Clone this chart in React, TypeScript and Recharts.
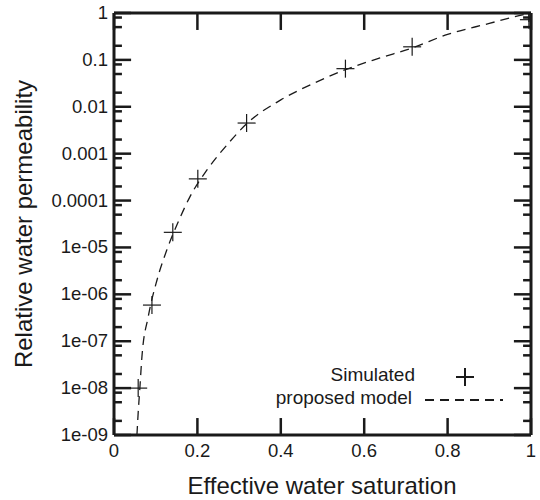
import React from "react"
import { ComposedChart, Line, Scatter, XAxis, YAxis, Legend, ReferenceLine } from "recharts"

// simulated points (crosses)
const simSaturation = [0.058, 0.091, 0.141, 0.201, 0.318, 0.555, 0.715, 0.995, 0.995]
const simPermeability = [1e-8, 5.9e-7, 2.1e-5, 2.9e-4, 4.5e-3, 0.065, 0.19, 1.0, 0.72]

// proposed model (dashed curve)
const modelSaturation = [0.055, 0.058, 0.062, 0.067, 0.082, 0.103, 0.127, 0.154, 0.182, 0.223, 0.27, 0.32, 0.4, 0.48, 0.555, 0.638, 0.715, 0.8, 0.9, 0.974, 1.0]
const modelPermeability = [1e-9, 3e-9, 1e-8, 4.7e-8, 3.3e-7, 2e-6, 9e-6, 3.5e-5, 1.2e-4, 4.5e-4, 1.5e-3, 4.5e-3, 0.014, 0.032, 0.062, 0.11, 0.18, 0.35, 0.6, 0.89, 1.0]

const xTicks = [0, 0.2, 0.4, 0.6, 0.8, 1]
const xTickLabels = ["0", "0.2", "0.4", "0.6", "0.8", "1"]

const yMajorTicks = [1e-9, 1e-8, 1e-7, 1e-6, 1e-5, 1e-4, 1e-3, 1e-2, 1e-1, 1]
const yTickLabels = ["1e-09", "1e-08", "1e-07", "1e-06", "1e-05", "0.0001", "0.001", "0.01", "0.1", "1"]
const yMinorFactors = [2, 5, 8]

const yMinorTicks = yMajorTicks.slice(0, -1).flatMap((d) => yMinorFactors.map((f) => d * f))

const simData = simSaturation.map((s, i) => ({ s, kr: simPermeability[i] }))
const modelData = modelSaturation.map((s, i) => ({ s, kr: modelPermeability[i] }))

const INK = "#1a1a1a"
const FONT = "'Liberation Sans', Arial, sans-serif"

// inward tick lengths, in axis units (about 17px / 8px on this plot)
const XLEN_MAJOR = 0.041
const XLEN_MINOR = 0.019
const YFACTOR = 2.3

const leftTick = (props: any) => {
  const { x, y, payload } = props
  const i = yMajorTicks.indexOf(payload.value)
  return (
    <text x={x - 6} y={y + 6} textAnchor="end" fontSize={18.5} fill={INK} fontFamily={FONT}>
      {yTickLabels[i]}
    </text>
  )
}

const bottomTick = (props: any) => {
  const { x, y, payload } = props
  const i = xTicks.indexOf(payload.value)
  return (
    <text x={x} y={y + 22} textAnchor="middle" fontSize={18.5} fill={INK} fontFamily={FONT}>
      {xTickLabels[i]}
    </text>
  )
}

const crossShape = (props: any) => {
  const { cx, cy } = props
  return (
    <g>
      <line x1={cx - 9} y1={cy} x2={cx + 9} y2={cy} stroke={INK} strokeWidth={1.2} />
      <line x1={cx} y1={cy - 9} x2={cx} y2={cy + 9} stroke={INK} strokeWidth={1.2} />
    </g>
  )
}

const textRow = { position: "absolute", left: 0, width: 145, height: 24, lineHeight: "24px", textAlign: "right", fontSize: 19, color: INK, fontFamily: FONT, whiteSpace: "nowrap" } as const

const KeyBox = () => (
  <div style={{ position: "relative", width: 250, height: 50 }}>
    <div style={{ ...textRow, top: -2 }}>Simulated</div>
    <div style={{ position: "absolute", left: 186, top: 11.4, width: 18, height: 1.2, background: INK }} />
    <div style={{ position: "absolute", left: 194.4, top: 3, width: 1.2, height: 18, background: INK }} />
    <div style={{ ...textRow, top: 21, width: 142 }}>proposed model</div>
    <div
      style={{
        position: "absolute",
        left: 155,
        top: 34.4,
        width: 78,
        height: 1.3,
        background: `repeating-linear-gradient(to right, ${INK} 0 9px, transparent 9px 15px)`,
      }}
    />
  </div>
)

const tickSegments = [
  ...yMajorTicks.flatMap((v) => [
    [{ x: 0, y: v }, { x: XLEN_MAJOR, y: v }],
    [{ x: 1, y: v }, { x: 1 - XLEN_MAJOR, y: v }],
  ]),
  ...yMinorTicks.flatMap((v) => [
    [{ x: 0, y: v }, { x: XLEN_MINOR, y: v }],
    [{ x: 1, y: v }, { x: 1 - XLEN_MINOR, y: v }],
  ]),
  ...xTicks.flatMap((t) => [
    [{ x: t, y: 1e-9 }, { x: t, y: 1e-9 * YFACTOR }],
    [{ x: t, y: 1 }, { x: t, y: 1 / YFACTOR }],
  ]),
]

export default function App() {
  return (
    <div style={{ position: "absolute", left: 0, top: 0 }}>
      <ComposedChart width={540} height={500} margin={{ top: 0, right: 0, bottom: 0, left: 0 }}>
        <XAxis
          xAxisId="bottom"
          dataKey="s"
          type="number"
          domain={[0, 1]}
          ticks={xTicks}
          interval={0}
          height={65}
          tickSize={0}
          tickMargin={0}
          tickLine={false}
          tick={bottomTick}
          axisLine={{ stroke: INK, strokeWidth: 3 }}
          allowDataOverflow
          label={{
            content: () => (
              <text x={322} y={494} textAnchor="middle" fontSize={24} fill={INK} fontFamily={FONT}>
                Effective water saturation
              </text>
            ),
          }}
        />
        <XAxis
          xAxisId="top"
          orientation="top"
          type="number"
          domain={[0, 1]}
          height={13}
          tick={false}
          tickLine={false}
          axisLine={{ stroke: INK, strokeWidth: 3 }}
        />
        <YAxis
          yAxisId="left"
          dataKey="kr"
          type="number"
          scale="log"
          domain={[1e-9, 1]}
          ticks={yMajorTicks}
          interval={0}
          width={114}
          tickSize={0}
          tickMargin={0}
          tickLine={false}
          tick={leftTick}
          axisLine={{ stroke: INK, strokeWidth: 3 }}
          allowDataOverflow
          label={{
            content: () => (
              <text
                x={32}
                y={224}
                transform="rotate(-90 32 224)"
                textAnchor="middle"
                fontSize={24}
                fill={INK}
                fontFamily={FONT}
              >
                Relative water permeability
              </text>
            ),
          }}
        />
        <YAxis
          yAxisId="right"
          orientation="right"
          type="number"
          scale="log"
          domain={[1e-9, 1]}
          width={9}
          tick={false}
          tickLine={false}
          axisLine={{ stroke: INK, strokeWidth: 3 }}
        />
        {tickSegments.map((seg, i) => (
          <ReferenceLine
            key={`tick-${i}`}
            xAxisId="bottom"
            yAxisId="left"
            segment={seg}
            stroke={INK}
            strokeWidth={2.5}
            ifOverflow="visible"
          />
        ))}
        <Line
          xAxisId="bottom"
          yAxisId="left"
          data={modelData}
          dataKey="kr"
          type="monotone"
          stroke={INK}
          strokeWidth={1.3}
          strokeDasharray="9 6"
          dot={false}
          isAnimationActive={false}
          legendType="none"
        />
        <Scatter
          xAxisId="bottom"
          yAxisId="left"
          data={simData}
          dataKey="kr"
          shape={crossShape}
          isAnimationActive={false}
          legendType="none"
        />
        <Legend
          layout="horizontal"
          verticalAlign="middle"
          align="center"
          content={() => <KeyBox />}
          wrapperStyle={{ position: "absolute", left: 270, top: 365, width: 250, height: 50 }}
        />
      </ComposedChart>
    </div>
  )
}
